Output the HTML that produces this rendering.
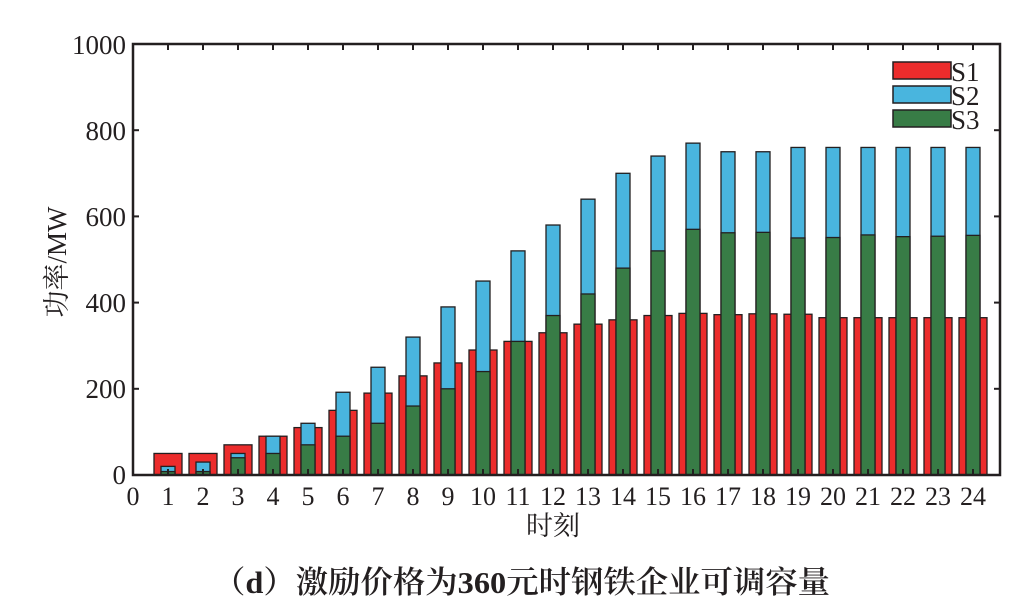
<!DOCTYPE html>
<html><head><meta charset="utf-8"><style>
body{margin:0;background:#fff;width:1026px;height:610px;overflow:hidden}
svg text{font-family:"Liberation Serif","Noto Serif CJK SC",serif !important;fill:#231f20}
</style></head><body>
<svg id="s" width="1026" height="610" xmlns="http://www.w3.org/2000/svg" font-family="'Liberation Serif','Noto Serif CJK SC',serif">
<g id="bars"></g>
<g stroke="#231f20" stroke-width="2.5" fill="none">
<path d="M133,44 V475 H1000 V44 Z"/>
</g>
<g id="ticks" stroke="#231f20" stroke-width="2"></g>
<g id="labels" font-size="26"></g>
<g font-size="27">
<text x="126" y="54" text-anchor="end">1000</text>
<text x="126" y="140" text-anchor="end">800</text>
<text x="126" y="226" text-anchor="end">600</text>
<text x="126" y="312" text-anchor="end">400</text>
<text x="126" y="398" text-anchor="end">200</text>
<text x="126" y="484" text-anchor="end">0</text>
</g>
<text transform="translate(66,262) rotate(-90)" font-size="27" text-anchor="middle">功率/MW</text>
<text x="553" y="535" font-size="27" text-anchor="middle">时刻</text>
<text x="213" y="593" font-size="31" font-weight="600" textLength="617" lengthAdjust="spacingAndGlyphs">（d）激励价格为360元时钢铁企业可调容量</text>
<g stroke="#231f20" stroke-width="1.5">
<rect x="893" y="62" width="58" height="17" fill="#ec2c2c"/>
<rect x="893" y="86" width="58" height="17" fill="#49b5de"/>
<rect x="893" y="110" width="58" height="17" fill="#387c46"/>
</g>
<g font-size="27">
<text x="951" y="81">S1</text><text x="951" y="105">S2</text><text x="951" y="129">S3</text>
</g>
</svg>
<script>
var S1=[50,50,70,90,110,150,190,230,260,290,310,330,350,360,370,375,372,374,373,365,365,365,365,365];
var S2=[20,30,50,90,120,192,250,320,390,450,520,580,640,700,740,770,750,750,760,760,760,760,760,760];
var S3=[8,8,40,50,70,90,120,160,200,240,310,370,420,480,520,570,562,563,550,551,557,553,554,556];
var ns="http://www.w3.org/2000/svg",b=document.getElementById("bars"),t=document.getElementById("ticks"),l=document.getElementById("labels");
function R(x,w,v,c){var r=document.createElementNS(ns,"rect");var h=v*0.431;r.setAttribute("x",x);r.setAttribute("y",475-h);r.setAttribute("width",w);r.setAttribute("height",h);r.setAttribute("fill",c);r.setAttribute("stroke","#231f20");r.setAttribute("stroke-width","1.3");b.appendChild(r);}
function L(x1,y1,x2,y2){var p=document.createElementNS(ns,"line");p.setAttribute("x1",x1);p.setAttribute("y1",y1);p.setAttribute("x2",x2);p.setAttribute("y2",y2);t.appendChild(p);}
for(var i=0;i<24;i++){var c=133+35*(i+1);R(c-14,28,S1[i],"#ec2c2c");R(c-7,14,S2[i],"#49b5de");R(c-7,14,S3[i],"#387c46");}
for(var i=0;i<=24;i++){var c=133+35*i;L(c,475,c,469);L(c,44,c,50);var x=document.createElementNS(ns,"text");x.setAttribute("x",c);x.setAttribute("y",505);x.setAttribute("text-anchor","middle");x.textContent=i;l.appendChild(x);}
for(var k=0;k<=5;k++){var y=475-k*86.2;L(133,y,139,y);L(1000,y,994,y);}
</script>
</body></html>
